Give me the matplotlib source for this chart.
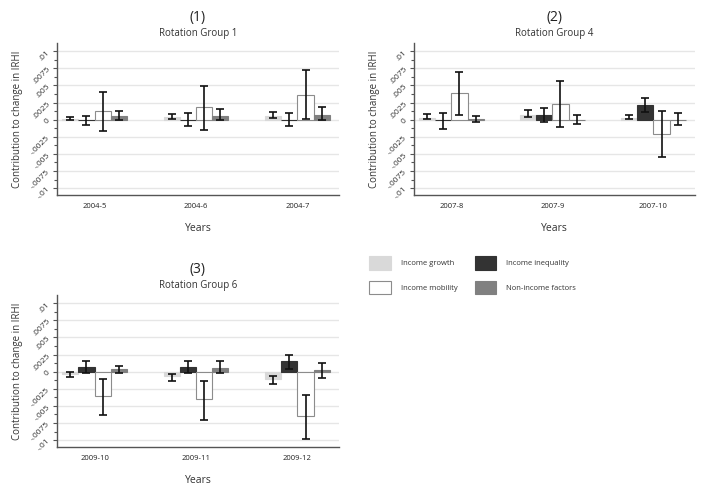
import matplotlib
matplotlib.use("Agg")
import matplotlib.pyplot as plt
import numpy as np
from matplotlib.ticker import FixedLocator, MultipleLocator

plt.rcParams['font.family'] = ['Open Sans', 'DejaVu Sans']

series = ["Income growth", "Income inequality", "Income mobility", "Non-income factors"]
colors = ["#d9d9d9", "#333333", "#ffffff", "#808080"]
edges = ["#d9d9d9", "#333333", "#8c8c8c", "#808080"]

# Panel 1: Rotation Group 1
cats1 = ["2004-5", "2004-6", "2004-7"]
val1 = {
    "Income growth":      [0.00015, 0.00035, 0.00055],
    "Income inequality":  [-0.0001, 0.0, 0.0],
    "Income mobility":    [0.0013, 0.0019, 0.0036],
    "Non-income factors": [0.0005, 0.0006, 0.0007],
}
lo1 = {
    "Income growth":      [-0.0001, 0.0001, 0.0003],
    "Income inequality":  [-0.0008, -0.0009, -0.001],
    "Income mobility":    [-0.0016, -0.0015, 0.0001],
    "Non-income factors": [-0.0001, -0.0001, -0.0001],
}
hi1 = {
    "Income growth":      [0.0004, 0.0008, 0.0011],
    "Income inequality":  [0.0006, 0.001, 0.001],
    "Income mobility":    [0.0041, 0.0049, 0.0072],
    "Non-income factors": [0.0013, 0.0016, 0.0018],
}

# Panel 2: Rotation Group 4
cats2 = ["2007-8", "2007-9", "2007-10"]
val2 = {
    "Income growth":      [0.0003, 0.0007, 0.0003],
    "Income inequality":  [-0.0001, 0.0007, 0.0021],
    "Income mobility":    [0.0039, 0.0023, -0.0021],
    "Non-income factors": [0.0001, 0.0, 0.0],
}
lo2 = {
    "Income growth":      [0.0001, 0.0004, 0.0001],
    "Income inequality":  [-0.0013, -0.0004, 0.0011],
    "Income mobility":    [0.0007, -0.0011, -0.0055],
    "Non-income factors": [-0.0004, -0.0007, -0.0008],
}
hi2 = {
    "Income growth":      [0.0008, 0.0014, 0.0007],
    "Income inequality":  [0.0009, 0.0017, 0.0032],
    "Income mobility":    [0.007, 0.0057, 0.0012],
    "Non-income factors": [0.0005, 0.0007, 0.0009],
}

# Panel 3: Rotation Group 6
cats3 = ["2009-10", "2009-11", "2009-12"]
val3 = {
    "Income growth":      [-0.0004, -0.0007, -0.0011],
    "Income inequality":  [0.0007, 0.0007, 0.0015],
    "Income mobility":    [-0.0036, -0.004, -0.0065],
    "Non-income factors": [0.0004, 0.0006, 0.0002],
}
lo3 = {
    "Income growth":      [-0.0008, -0.0013, -0.0018],
    "Income inequality":  [-0.0002, -0.0002, 0.0004],
    "Income mobility":    [-0.0064, -0.0071, -0.0098],
    "Non-income factors": [-0.0002, -0.0002, -0.0009],
}
hi3 = {
    "Income growth":      [-0.0001, -0.0003, -0.0007],
    "Income inequality":  [0.0015, 0.0015, 0.0024],
    "Income mobility":    [-0.001, -0.0013, -0.0034],
    "Non-income factors": [0.0008, 0.0015, 0.0012],
}

panels = [
    ("(1)", "Rotation Group 1", cats1, val1, lo1, hi1, [0.081, 0.6037, 0.4005, 0.309]),
    ("(2)", "Rotation Group 4", cats2, val2, lo2, hi2, [0.588, 0.6037, 0.399, 0.309]),
    ("(3)", "Rotation Group 6", cats3, val3, lo3, hi3, [0.081, 0.0915, 0.4005, 0.309]),
]

yticks = [0.01, 0.0075, 0.005, 0.0025, 0.0, -0.0025, -0.005, -0.0075, -0.01]
ylabels = [".01", ".0075", ".005", ".0025", "0", "-.0025", "-.005", "-.0075", "-.01"]

fig = plt.figure(figsize=(7.04, 4.92), dpi=100)
bw = 0.16
offsets = np.array([-1.5, -0.5, 0.5, 1.5]) * bw
handles = None
for num, sub, cats, val, lo, hi, pos in panels:
    ax = fig.add_axes(pos)
    x = np.arange(len(cats))
    hs = []
    for i, s in enumerate(series):
        v = np.array(val[s])
        l = np.array(lo[s])
        h = np.array(hi[s])
        b = ax.bar(x + offsets[i], v, width=bw, color=colors[i], edgecolor=edges[i],
                   linewidth=0.8, zorder=2, label=s)
        hs.append(b)
        ax.errorbar(x + offsets[i], v, yerr=[v - l, h - v], fmt="none", ecolor="#111111",
                    elinewidth=1.2, capsize=3, capthick=1.2, zorder=3)
    handles = hs
    ax.set_xlim(-0.37, 2.41)
    ax.set_ylim(-0.011, 0.0112)
    ax.yaxis.set_major_locator(FixedLocator(yticks))
    ax.set_yticklabels(ylabels, rotation=45, fontsize=6, color="#333333")
    ax.yaxis.set_minor_locator(MultipleLocator(0.00125))
    ax.tick_params(axis="y", which="major", length=3, width=0.8, colors="#555555", pad=1)
    ax.tick_params(axis="y", which="minor", length=2, width=0.8, colors="#555555")
    for lab in ax.get_yticklabels():
        lab.set_color("#333333")
    ax.set_xticks(x)
    ax.set_xticklabels(cats, fontsize=5.5, color="#222222")
    ax.tick_params(axis="x", length=0, pad=6)
    ax.grid(axis="y", which="major", color="#e6e6e6", linewidth=1.0, zorder=0)
    ax.set_axisbelow(True)
    for sp in ["top", "right"]:
        ax.spines[sp].set_visible(False)
    for sp in ["left", "bottom"]:
        ax.spines[sp].set_color("#555555")
        ax.spines[sp].set_linewidth(1.0)
    ax.set_ylabel("Contribution to change in IRHI", fontsize=7, color="#333333", labelpad=5)
    ax.set_xlabel("Years", fontsize=7.5, color="#333333", labelpad=9)
    ax.text(0.5, 1.17, num, transform=ax.transAxes, ha="center", va="center", fontsize=10, color="#222222")
    ax.text(0.5, 1.065, sub, transform=ax.transAxes, ha="center", va="center", fontsize=7, color="#333333")

order = [handles[0], handles[2], handles[1], handles[3]]
labs = [series[0], series[2], series[1], series[3]]
leg = fig.legend(order, labs, ncol=2, loc="upper left", bbox_to_anchor=(0.515, 0.493),
                 fontsize=5.5, frameon=False, handlelength=2.8, handleheight=2.3,
                 handletextpad=1.3, columnspacing=2.3, labelspacing=1.5)
for t in leg.get_texts():
    t.set_color("#333333")

fig.savefig("out.png", dpi=100)
